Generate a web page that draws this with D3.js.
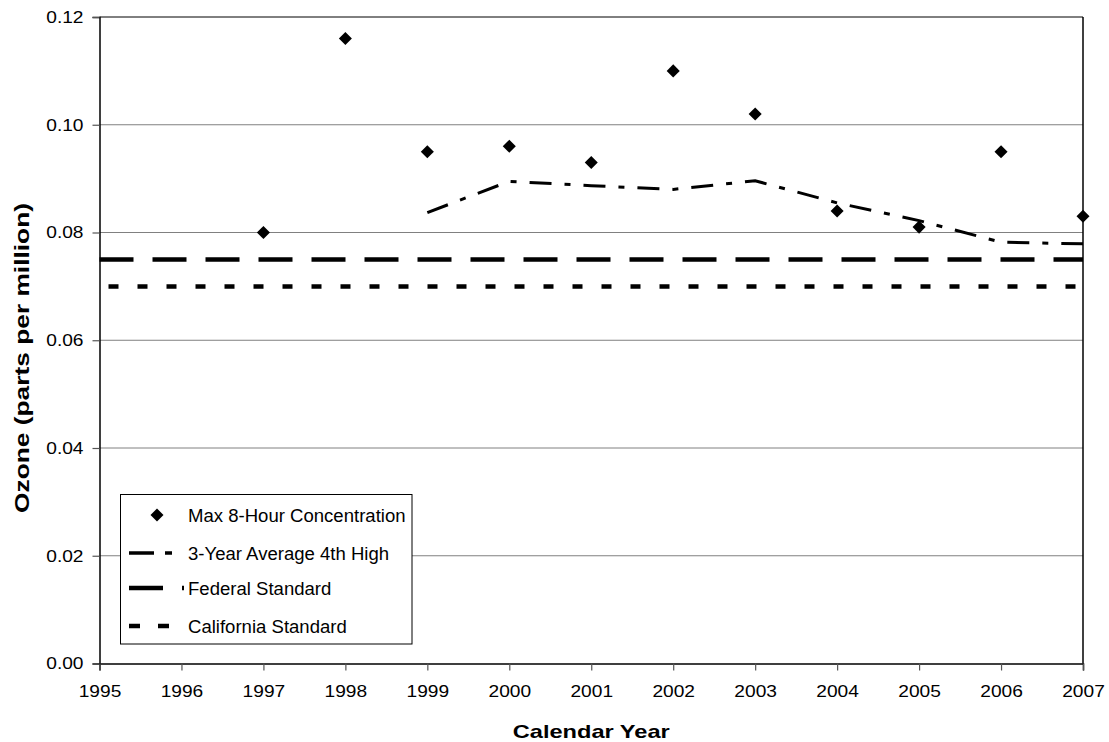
<!DOCTYPE html>
<html><head><meta charset="utf-8">
<script src="https://cdn.jsdelivr.net/npm/d3@7"></script>
<style>body{margin:0;background:#fff}svg{display:block}text{font-family:"Liberation Sans",Arial,sans-serif}</style>
</head><body>
<script>
const years = [1997,1998,1999,2000,2001,2002,2003,2004,2005,2006,2007];
const maxConc = [0.080,0.116,0.095,0.096,0.093,0.110,0.102,0.084,0.081,0.095,0.083];
const avgYears = [1999,2000,2001,2002,2003,2004,2005,2006,2007];
const avg4th = [0.0837,0.0895,0.0887,0.0880,0.0896,0.0855,0.0822,0.0782,0.0779];
const federalStd = 0.075;
const californiaStd = 0.070;
const xTicks = [1995,1996,1997,1998,1999,2000,2001,2002,2003,2004,2005,2006,2007];
const yTicks = [0,0.02,0.04,0.06,0.08,0.10,0.12];
const legendLabels = ["Max 8-Hour Concentration","3-Year Average 4th High","Federal Standard","California Standard"];

const W=1109,H=742;
const svg=d3.select("body").append("svg").attr("width",W).attr("height",H);
const x=d3.scaleLinear().domain([1995,2007]).range([99.5,1083]);
const y=d3.scaleLinear().domain([0,0.12]).range([663.5,17]);

function stretch(sel,f){
  sel.each(function(){const L=this.getComputedTextLength();
    d3.select(this).attr("textLength",L*f).attr("lengthAdjust","spacingAndGlyphs");});
}

// gridlines
svg.append("g").selectAll("line").data(yTicks.filter(d=>d>0)).join("line")
  .attr("x1",x(1995)).attr("x2",x(2007)).attr("y1",d=>y(d)).attr("y2",d=>y(d))
  .attr("stroke",d=>d===0.12?"#000":"#808080").attr("stroke-width",1);

// axes
const yAxis=svg.append("g").attr("transform",`translate(${x(1995)},0)`)
  .call(d3.axisLeft(y).tickValues(yTicks).tickFormat(d3.format(".2f")).tickSize(7).tickPadding(9));
const xAxis=svg.append("g").attr("transform",`translate(0,${y(0)})`)
  .call(d3.axisBottom(x).tickValues(xTicks).tickFormat(d3.format("d")).tickSize(7).tickPadding(15));
[yAxis,xAxis].forEach(g=>{
  g.select(".domain").attr("stroke","#000").attr("stroke-width",1.5);
  g.selectAll(".tick line").attr("stroke","#555").attr("stroke-width",1.2);
  g.selectAll("text").attr("font-size",16.5).attr("fill","#000").style("font-family",'"Liberation Sans",Arial,sans-serif');
  stretch(g.selectAll("text"),1.16);
});
// right border
svg.append("line").attr("x1",x(2007)).attr("x2",x(2007)).attr("y1",y(0.12)).attr("y2",y(0))
  .attr("stroke","#000").attr("stroke-width",1.5);

// standards
svg.append("line").attr("x1",x(1995)).attr("x2",x(2007)).attr("y1",y(federalStd)).attr("y2",y(federalStd))
  .attr("stroke","#000").attr("stroke-width",4.5).attr("stroke-dasharray","34,19");
svg.append("line").attr("x1",x(1995)).attr("x2",x(2007)).attr("y1",y(californiaStd)).attr("y2",y(californiaStd))
  .attr("stroke","#000").attr("stroke-width",4.5).attr("stroke-dasharray","10,19").attr("stroke-dashoffset",-9);

// 3-year average
const line=d3.line().x((d,i)=>x(avgYears[i])).y(d=>y(d));
svg.append("path").attr("d",line(avg4th)).attr("fill","none").attr("stroke","#000")
  .attr("stroke-width",3).attr("stroke-dasharray","22,13,6,13");

// diamonds
const diamond=d3.symbol().type(d3.symbolSquare).size(85);
svg.append("g").selectAll("path").data(maxConc).join("path")
  .attr("d",diamond).attr("fill","#000")
  .attr("transform",(d,i)=>`translate(${x(years[i])},${y(d)}) rotate(45)`);

// axis titles
svg.append("text").attr("x",(x(1995)+x(2007))/2).attr("y",738).attr("text-anchor","middle")
  .attr("font-size",18.5).attr("font-weight","bold").attr("textLength",157).attr("lengthAdjust","spacingAndGlyphs")
  .text("Calendar Year");
svg.append("text").attr("transform","translate(29,358) rotate(-90)").attr("text-anchor","middle")
  .attr("font-size",19.5).attr("font-weight","bold").attr("textLength",310).attr("lengthAdjust","spacingAndGlyphs")
  .text("Ozone (parts per million)");

// legend
const lg=svg.append("g");
lg.append("rect").attr("x",120.5).attr("y",494.5).attr("width",291.5).attr("height",149.5)
  .attr("fill","#fff").attr("stroke","#000").attr("stroke-width",1);
const rowY=[515,553,588,626];
const lt=lg.selectAll("text").data(legendLabels).join("text").attr("x",188).attr("y",(d,i)=>rowY[i]+6.5)
  .attr("font-size",17.5).text(d=>d);
stretch(lt,1.06);
lg.append("path").attr("d",diamond).attr("fill","#000").attr("transform",`translate(157,${rowY[0]}) rotate(45)`);
lg.append("line").attr("x1",129).attr("x2",172).attr("y1",rowY[1]).attr("y2",rowY[1])
  .attr("stroke","#000").attr("stroke-width",3.5).attr("stroke-dasharray","25,11,7,13");
lg.append("line").attr("x1",129).attr("x2",184).attr("y1",rowY[2]).attr("y2",rowY[2])
  .attr("stroke","#000").attr("stroke-width",4.5).attr("stroke-dasharray","34,19");
lg.append("line").attr("x1",129).attr("x2",170).attr("y1",rowY[3]).attr("y2",rowY[3])
  .attr("stroke","#000").attr("stroke-width",4.5).attr("stroke-dasharray","11,18");
</script>
</body></html>
